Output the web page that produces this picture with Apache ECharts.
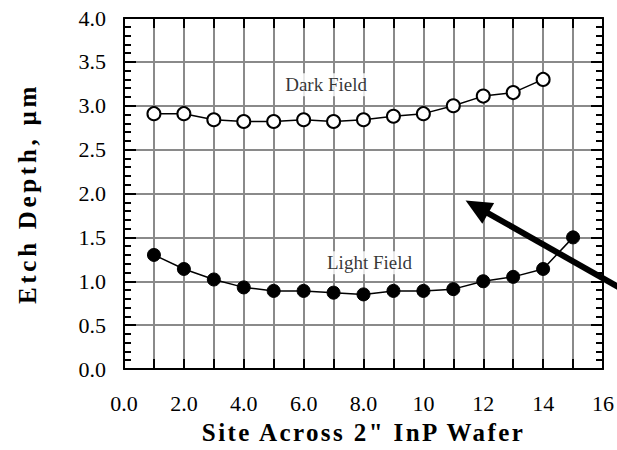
<!DOCTYPE html>
<html>
<head>
<meta charset="utf-8">
<script src="https://cdn.jsdelivr.net/npm/echarts@6/dist/echarts.min.js"></script>
<style>
  html, body { margin: 0; padding: 0; background: #fff; }
  #chart { width: 617px; height: 450px; }
</style>
</head>
<body>
<div id="chart"></div>
<script>
// Etch depth measured at each site across a 2" InP wafer
const darkSites = [1, 2, 3, 4, 5, 6, 7, 8, 9, 10, 11, 12, 13, 14];
const darkField = [2.91, 2.91, 2.84, 2.82, 2.82, 2.84, 2.82, 2.84, 2.88, 2.91, 3.00, 3.11, 3.15, 3.30];
const lightSites = [1, 2, 3, 4, 5, 6, 7, 8, 9, 10, 11, 12, 13, 14, 15];
const lightField = [1.30, 1.14, 1.02, 0.93, 0.89, 0.89, 0.87, 0.85, 0.89, 0.89, 0.91, 1.00, 1.05, 1.14, 1.50];

// Axis tick labels and titles
const xTickLabels = ['0.0', '2.0', '4.0', '6.0', '8.0', '10', '12', '14', '16'];
const yTickLabels = ['0.0', '0.5', '1.0', '1.5', '2.0', '2.5', '3.0', '3.5', '4.0'];
const xTitle = 'Site Across 2" InP Wafer';
const yTitle = 'Etch Depth, µm';

// In-plot annotations
const noteText = ['Dark Field', 'Light Field'];
const noteX = [6.75, 8.2];
const noteY = [3.24, 1.21];

// Arrow annotation (tail -> head), data coordinates
const arrowTail = [17.0, 0.84];
const arrowHead = [11.41, 1.92];

const FONT = 'Liberation Serif';
const GRID_GRAY = '#8a8a8a';

const chart = echarts.init(document.getElementById('chart'), null, { renderer: 'svg' });

const frameLine = { show: true, onZero: false, lineStyle: { color: '#000', width: 2 } };
const tickStyle = { color: '#000', width: 2 };

const option = {
  animation: false,
  backgroundColor: '#fff',
  grid: { left: 124, right: 11, top: 18, bottom: 73, containLabel: false },
  xAxis: [
    {
      type: 'value', min: 0, max: 16, interval: 2, position: 'bottom',
      axisLine: frameLine,
      axisTick: { show: true, inside: true, length: 10, lineStyle: tickStyle },
      minorTick: { show: true, splitNumber: 2, length: 10, lineStyle: tickStyle },
      splitLine: { show: true, lineStyle: { color: GRID_GRAY, width: 2 } },
      minorSplitLine: { show: true, lineStyle: { color: GRID_GRAY, width: 2 } },
      axisLabel: {
        margin: 23, fontFamily: FONT, fontSize: 22, color: '#000',
        formatter: v => xTickLabels[Math.round(v / 2)]
      },
      name: xTitle, nameLocation: 'middle', nameGap: 51,
      nameTextStyle: { fontFamily: FONT, fontSize: 25, fontWeight: 'bold', color: '#000' }
    },
    {
      type: 'value', min: 0, max: 16, interval: 2, position: 'top',
      axisLine: frameLine,
      axisTick: { show: true, inside: true, length: 10, lineStyle: tickStyle },
      minorTick: { show: true, splitNumber: 2, length: 10, lineStyle: tickStyle },
      splitLine: { show: false }, axisLabel: { show: false }
    }
  ],
  yAxis: [
    {
      type: 'value', min: 0, max: 4, interval: 0.5, position: 'left',
      axisLine: frameLine,
      axisTick: { show: true, inside: true, length: 12, lineStyle: tickStyle },
      minorTick: { show: true, splitNumber: 5, length: 7, lineStyle: tickStyle },
      splitLine: { show: true, lineStyle: { color: GRID_GRAY, width: 2 } },
      axisLabel: {
        margin: 18, fontFamily: FONT, fontSize: 22, color: '#000',
        formatter: v => yTickLabels[Math.round(v * 2)]
      },
      name: yTitle, nameLocation: 'middle', nameGap: 84, nameRotate: 90,
      nameTextStyle: { fontFamily: FONT, fontSize: 25, fontWeight: 'bold', color: '#000' }
    },
    {
      type: 'value', min: 0, max: 4, interval: 0.5, position: 'right',
      axisLine: frameLine,
      axisTick: { show: true, inside: true, length: 12, lineStyle: tickStyle },
      minorTick: { show: true, splitNumber: 5, length: 7, lineStyle: tickStyle },
      splitLine: { show: false }, axisLabel: { show: false }
    }
  ],
  series: [
    {
      name: 'Light Field', type: 'line', xAxisIndex: 0, yAxisIndex: 0, z: 3,
      data: lightSites.map((x, i) => [x, lightField[i]]),
      symbol: 'circle', symbolSize: 13,
      itemStyle: { color: '#000', borderColor: '#000', borderWidth: 1 },
      lineStyle: { color: '#000', width: 1.5 }
    },
    {
      name: 'Dark Field', type: 'line', xAxisIndex: 0, yAxisIndex: 0, z: 3,
      data: darkSites.map((x, i) => [x, darkField[i]]),
      symbol: 'circle', symbolSize: 13,
      itemStyle: { color: '#fff', borderColor: '#000', borderWidth: 2 },
      lineStyle: { color: '#000', width: 1.5 }
    },
    {
      name: 'notes', type: 'scatter', xAxisIndex: 0, yAxisIndex: 0, z: 2,
      clip: false, silent: true,
      data: noteText.map((t, i) => ({ value: [noteX[i], noteY[i]], name: t })),
      symbolSize: 0,
      label: {
        show: true, position: 'inside', formatter: p => p.name,
        fontFamily: FONT, fontSize: 19, color: '#000',
        backgroundColor: '#fff', padding: [2, 3]
      }
    }
  ]
};

chart.setOption(option);

// Thick arrow drawn on top, placed through the chart's own coordinate conversion
const tail = chart.convertToPixel({ xAxisIndex: 0, yAxisIndex: 0 }, arrowTail);
const head = chart.convertToPixel({ xAxisIndex: 0, yAxisIndex: 0 }, arrowHead);
const dx = head[0] - tail[0], dy = head[1] - tail[1];
const len = Math.hypot(dx, dy);
const ux = dx / len, uy = dy / len;       // unit vector toward the head
const px = -uy, py = ux;                  // perpendicular
const headLen = 26, headHalf = 12;
const base = [head[0] - ux * headLen, head[1] - uy * headLen];

chart.setOption({
  graphic: [
    {
      type: 'line', z: 100, silent: true,
      shape: { x1: tail[0], y1: tail[1], x2: base[0] + ux * 4, y2: base[1] + uy * 4 },
      style: { stroke: '#000', lineWidth: 6 }
    },
    {
      type: 'polygon', z: 100, silent: true,
      shape: {
        points: [
          head,
          [base[0] + px * headHalf, base[1] + py * headHalf],
          [base[0] - px * headHalf, base[1] - py * headHalf]
        ]
      },
      style: { fill: '#000' }
    }
  ]
});

// Widen the tracking of the two bold axis titles in the SVG output
const titleSpacing = {};
titleSpacing[xTitle] = '2.4px';
titleSpacing[yTitle] = '3.7px';
function spaceTitles() {
  document.querySelectorAll('#chart svg text').forEach(t => {
    const s = titleSpacing[t.textContent];
    if (s) t.setAttribute('letter-spacing', s);
  });
}
spaceTitles();
chart.on('finished', spaceTitles);
setTimeout(spaceTitles, 0);
</script>
</body>
</html>
